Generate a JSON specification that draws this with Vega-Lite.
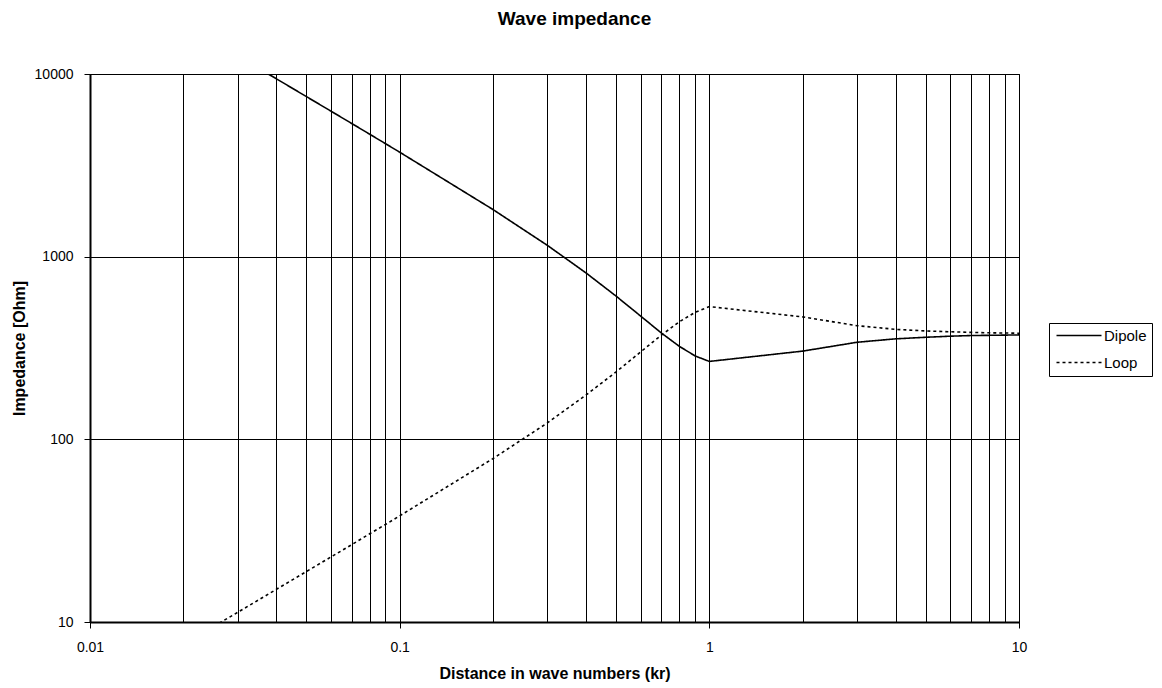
{
  "$schema": "https://vega.github.io/schema/vega-lite/v6.json",
  "autosize": {"type": "none"},
  "width": 929,
  "height": 548,
  "padding": {"left": 90, "top": 74, "right": 143, "bottom": 66},
  "background": "white",
  "title": {
    "text": "Wave impedance",
    "anchor": "middle",
    "frame": "group",
    "dx": 20,
    "offset": 38,
    "font": "Liberation Sans",
    "fontSize": 19,
    "fontWeight": "bold",
    "color": "black"
  },
  "config": {
    "view": {"stroke": "black", "strokeWidth": 1},
    "axis": {
      "labelFont": "Liberation Sans",
      "labelFontSize": 14,
      "labelColor": "black",
      "titleFont": "Liberation Sans",
      "titleFontSize": 16,
      "titleFontWeight": "bold",
      "titleColor": "black",
      "domainColor": "black",
      "domainWidth": 2,
      "gridColor": "black",
      "gridOpacity": 1,
      "gridWidth": 1,
      "tickColor": "black",
      "tickWidth": 1
    },
    "legend": {
      "labelFont": "Liberation Sans",
      "labelFontSize": 15,
      "labelColor": "black"
    }
  },
  "data": {
    "values": [
      {"kr": 0.01, "Z": 37700, "series": "Dipole"},
      {"kr": 0.02, "Z": 18840, "series": "Dipole"},
      {"kr": 0.03, "Z": 12560, "series": "Dipole"},
      {"kr": 0.04, "Z": 9410, "series": "Dipole"},
      {"kr": 0.05, "Z": 7520, "series": "Dipole"},
      {"kr": 0.06, "Z": 6260, "series": "Dipole"},
      {"kr": 0.07, "Z": 5360, "series": "Dipole"},
      {"kr": 0.08, "Z": 4683, "series": "Dipole"},
      {"kr": 0.09, "Z": 4155, "series": "Dipole"},
      {"kr": 0.1, "Z": 3733, "series": "Dipole"},
      {"kr": 0.2, "Z": 1813, "series": "Dipole"},
      {"kr": 0.3, "Z": 1153, "series": "Dipole"},
      {"kr": 0.4, "Z": 814, "series": "Dipole"},
      {"kr": 0.5, "Z": 608, "series": "Dipole"},
      {"kr": 0.6, "Z": 473, "series": "Dipole"},
      {"kr": 0.7, "Z": 382, "series": "Dipole"},
      {"kr": 0.8, "Z": 323, "series": "Dipole"},
      {"kr": 0.9, "Z": 286, "series": "Dipole"},
      {"kr": 1, "Z": 267, "series": "Dipole"},
      {"kr": 2, "Z": 304, "series": "Dipole"},
      {"kr": 3, "Z": 340, "series": "Dipole"},
      {"kr": 4, "Z": 355, "series": "Dipole"},
      {"kr": 5, "Z": 362, "series": "Dipole"},
      {"kr": 6, "Z": 367, "series": "Dipole"},
      {"kr": 7, "Z": 370, "series": "Dipole"},
      {"kr": 8, "Z": 371, "series": "Dipole"},
      {"kr": 9, "Z": 372, "series": "Dipole"},
      {"kr": 10, "Z": 373, "series": "Dipole"},
      {"kr": 0.01, "Z": 3.77, "series": "Loop"},
      {"kr": 0.02, "Z": 7.54, "series": "Loop"},
      {"kr": 0.03, "Z": 11.3, "series": "Loop"},
      {"kr": 0.04, "Z": 15.1, "series": "Loop"},
      {"kr": 0.05, "Z": 18.9, "series": "Loop"},
      {"kr": 0.06, "Z": 22.7, "series": "Loop"},
      {"kr": 0.07, "Z": 26.5, "series": "Loop"},
      {"kr": 0.08, "Z": 30.4, "series": "Loop"},
      {"kr": 0.09, "Z": 34.2, "series": "Loop"},
      {"kr": 0.1, "Z": 38.1, "series": "Loop"},
      {"kr": 0.2, "Z": 78.4, "series": "Loop"},
      {"kr": 0.3, "Z": 123, "series": "Loop"},
      {"kr": 0.4, "Z": 175, "series": "Loop"},
      {"kr": 0.5, "Z": 234, "series": "Loop"},
      {"kr": 0.6, "Z": 301, "series": "Loop"},
      {"kr": 0.7, "Z": 372, "series": "Loop"},
      {"kr": 0.8, "Z": 440, "series": "Loop"},
      {"kr": 0.9, "Z": 496, "series": "Loop"},
      {"kr": 1, "Z": 533, "series": "Loop"},
      {"kr": 2, "Z": 468, "series": "Loop"},
      {"kr": 3, "Z": 419, "series": "Loop"},
      {"kr": 4, "Z": 400, "series": "Loop"},
      {"kr": 5, "Z": 392, "series": "Loop"},
      {"kr": 6, "Z": 388, "series": "Loop"},
      {"kr": 7, "Z": 385, "series": "Loop"},
      {"kr": 8, "Z": 383, "series": "Loop"},
      {"kr": 9, "Z": 382, "series": "Loop"},
      {"kr": 10, "Z": 381, "series": "Loop"}
    ]
  },
  "mark": {"type": "line", "color": "black", "strokeWidth": 1.6, "clip": true},
  "encoding": {
    "x": {
      "field": "kr",
      "type": "quantitative",
      "scale": {"type": "log", "domain": [0.01, 10], "nice": false},
      "axis": {
        "title": "Distance in wave numbers (kr)",
        "values": [0.01, 0.02, 0.03, 0.04, 0.05, 0.06, 0.07, 0.08, 0.09, 0.1, 0.2, 0.3, 0.4, 0.5, 0.6, 0.7, 0.8, 0.9, 1, 2, 3, 4, 5, 6, 7, 8, 9, 10],
        "format": "~g",
        "labelExpr": "indexof([0.01, 0.1, 1, 10], datum.value) >= 0 ? datum.label : ''",
        "tickOpacity": {"condition": {"test": "indexof([0.01, 0.1, 1, 10], datum.value) >= 0", "value": 1}, "value": 0},
        "tickSize": 6,
        "labelPadding": 12,
        "labelFlush": false,
        "labelOverlap": false,
        "titlePadding": 11
      }
    },
    "y": {
      "field": "Z",
      "type": "quantitative",
      "scale": {"type": "log", "domain": [10, 10000], "nice": false},
      "axis": {
        "title": "Impedance [Ohm]",
        "values": [10, 100, 1000, 10000],
        "format": "d",
        "tickSize": 6,
        "labelPadding": 11,
        "labelFlush": false,
        "titlePadding": 7
      }
    },
    "strokeDash": {
      "field": "series",
      "type": "nominal",
      "scale": {"domain": ["Dipole", "Loop"], "range": [[1, 0], [3, 3]]},
      "legend": {
        "title": null,
        "orient": "none",
        "legendX": 959,
        "legendY": 249,
        "strokeColor": "black",
        "fillColor": "white",
        "padding": 5,
        "symbolType": "M-2,0H16",
        "symbolSize": 25,
        "symbolStrokeColor": "black",
        "symbolFillColor": "transparent",
        "symbolStrokeWidth": 1.6,
        "labelOffset": 35,
        "rowPadding": 11
      }
    }
  }
}
